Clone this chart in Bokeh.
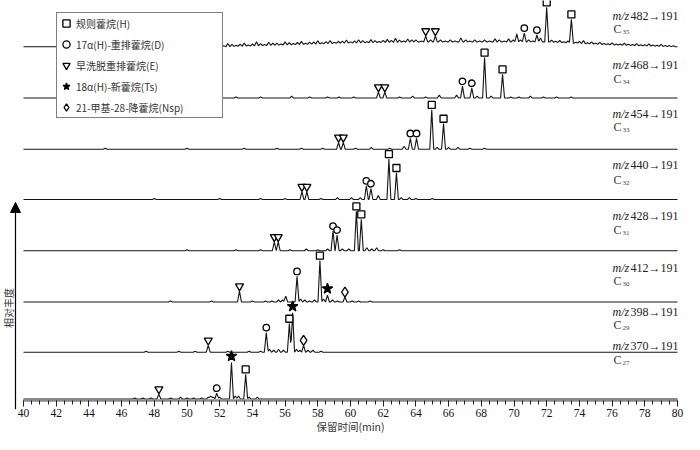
import numpy as np
from bokeh.plotting import figure
from bokeh.models import (Range1d, FixedTicker, Legend, LegendItem, Arrow,
                          NormalHead)
from bokeh.core.properties import value
from bokeh.embed import file_html
from bokeh.resources import INLINE

# ---------------- data ----------------
x_ticks = [40, 42, 44, 46, 48, 50, 52, 54, 56, 58, 60, 62, 64, 66, 68, 70, 72, 74, 76, 78, 80]

series = ["C35", "C34", "C33", "C32", "C31", "C30", "C29", "C27"]
carbon_sub = ["35", "34", "33", "32", "31", "30", "29", "27"]
mz_text = ["482→191", "468→191", "454→191", "440→191", "428→191", "412→191", "398→191", "370→191"]

legend_codes = ["H", "D", "E", "Ts", "Nsp"]
legend_labels = ["规则藿烷(H)", "17α(H)-重排藿烷(D)", "早洗脱重排藿烷(E)",
                 "18α(H)-新藿烷(Ts)", "21-甲基-28-降藿烷(Nsp)"]

# peak retention time (min), peak height (relative abundance units), compound code
c35_t = [52.0, 52.25, 52.5, 52.75, 53.0, 53.25, 53.5, 53.75, 54.0, 54.25, 54.5, 54.75,
         55.0, 55.25, 55.5, 55.75, 56.0, 56.25, 56.5, 56.75, 57.0, 57.25, 57.5, 57.75,
         58.0, 58.25, 58.5, 58.75, 59.0, 59.25, 59.5, 59.75, 60.0, 60.25, 60.5, 60.75,
         61.0, 61.25, 61.5, 61.75, 62.0, 62.25, 62.5, 62.75, 63.0, 63.25, 63.5, 63.75, 64.0,
         64.35, 64.60, 64.9, 65.19, 65.5, 65.8, 66.1, 66.4, 66.75, 67.05, 67.3, 67.6, 67.9,
         68.2, 68.5, 68.84, 69.1, 69.4, 69.67, 69.95, 70.17, 70.4, 70.63, 70.9, 71.15, 71.40,
         71.62, 72.0, 72.3, 72.55, 72.8, 73.05, 73.3, 73.51, 73.8, 74.0, 74.25, 74.5, 74.75,
         75.0, 75.25, 75.5, 75.75, 76.0, 76.25, 76.5, 76.75, 77.0, 77.25, 77.5, 77.75, 78.0,
         78.25, 78.5, 78.75, 79.0, 79.25, 79.5, 79.75]
c35_h = [2, 1, 3, 2, 1, 2, 3, 1, 2, 4, 2, 1,
         3, 2, 2, 1, 3, 2, 1, 2, 3, 1, 2, 2,
         3, 1, 2, 3, 1, 2, 2, 3, 1, 2, 3, 2,
         1, 3, 2, 1, 2, 3, 2, 4, 2, 1, 3, 2, 2,
         1, 6, 2, 6, 2, 1, 2, 1, 4, 2, 1, 2, 1,
         2, 1, 3, 2, 1, 3, 2, 8, 2, 9, 2, 1, 7,
         4, 35, 2, 1, 2, 1, 2, 24, 1, 2, 3, 1, 2,
         1, 2, 1, 1, 2, 1, 1, 2, 1, 1, 2, 1, 1,
         2, 1, 1, 2, 1, 1, 1]
c35_id = ([""] * 49 + ["", "E", "", "E", "", "", "", "", "", "", "", "", "",
                        "", "", "", "", "", "", "", "", "", "D", "", "", "D",
                        "", "H", "", "", "", "", "", "H", "", "", "", "", ""]
          + [""] * 21)
c35_base_t = [40, 52, 56, 60, 64, 68, 72, 76, 80]
c35_base_y = [0, 0, 2, 4, 5, 5, 5, 2, 0]

c34_t = [47.0, 53.0, 54.5, 56.4, 57.5, 58.6, 59.3, 60.2, 61.71, 62.1, 63.0, 63.8, 64.6, 65.43,
         66.49, 66.85, 67.42, 67.75, 68.2, 68.6, 69.30, 69.8, 70.3, 71.0, 71.8, 72.6, 73.5]
c34_h = [1, 1, 1, 2, 1, 1, 1, 1, 6, 6, 1, 2, 1, 3, 3, 12, 10, 2, 41, 2, 24, 1, 1, 2, 1, 1, 1]
c34_id = ["", "", "", "", "", "", "", "", "E", "E", "", "", "", "", "", "D", "D", "", "H", "",
          "H", "", "", "", "", "", ""]

c33_t = [45.0, 50.0, 53.5, 55.5, 57.0, 58.3, 59.27, 59.56, 60.3, 61.27, 62.4, 63.28, 63.66,
         64.04, 64.97, 65.3, 65.69, 66.0, 66.57, 67.3, 68.2]
c33_h = [1, 1, 1, 1, 1, 1, 7, 7, 1, 2, 1, 3, 11, 11, 40, 2, 26, 2, 2, 1, 1]
c33_id = ["", "", "", "", "", "", "E", "E", "", "", "", "", "D", "D", "H", "", "H", "", "", "", ""]

c32_t = [48.0, 52.0, 54.5, 56.0, 57.03, 57.33, 58.2, 59.2, 60.06, 60.6, 60.97, 61.25, 61.7,
         62.35, 62.81, 63.1, 63.6, 64.0, 65.0]
c32_h = [1, 1, 1, 1, 8, 8, 1, 2, 2, 2, 14, 11, 4, 41, 27, 2, 2, 1, 1]
c32_id = ["", "", "", "", "E", "E", "", "", "", "", "D", "D", "", "H", "H", "", "", "", ""]

c31_t = [50.0, 53.0, 54.5, 55.34, 55.58, 56.3, 57.3, 58.0, 58.6, 58.93, 59.18, 59.5, 59.9,
         60.36, 60.66, 61.0, 61.3, 61.6, 62.0, 63.0]
c31_h = [1, 1, 1, 9, 9, 1, 2, 1, 2, 20, 16, 2, 2, 40, 32, 3, 2, 3, 1, 1]
c31_id = ["", "", "", "E", "E", "", "", "", "", "D", "D", "", "", "H", "H", "", "", "", "", ""]

c30_t = [49.0, 51.5, 53.21, 54.0, 54.8, 55.2, 55.6, 55.85, 56.04, 56.73, 56.95, 57.2, 57.5,
         57.8, 58.13, 58.35, 58.59, 58.9, 59.2, 59.66, 60.1, 60.5, 61.2]
c30_h = [1, 1, 11, 1, 1, 1, 2, 2, 6, 26, 3, 2, 1, 2, 42, 3, 7, 2, 1, 5, 1, 1, 1]
c30_id = ["", "", "E", "", "", "", "", "", "", "D", "", "", "", "", "H", "", "Ts", "", "",
          "Nsp", "", "", ""]

c29_t = [47.5, 49.5, 50.5, 51.30, 52.5, 53.8, 54.5, 54.85, 55.05, 55.3, 55.6, 55.9, 56.26,
         56.46, 56.7, 56.9, 57.13, 57.4, 57.7, 58.2]
c29_h = [1, 1, 1, 7, 1, 1, 1, 20, 3, 2, 3, 2, 29, 40, 3, 2, 7, 2, 2, 1]
c29_id = ["", "", "", "E", "", "", "", "D", "", "", "", "", "H", "Ts", "", "", "Nsp", "", "", ""]

c27_t = [46.8, 47.3, 47.8, 48.28, 49.0, 49.6, 50.0, 50.4, 50.9, 51.3, 51.45, 51.6, 51.82,
         52.0, 52.72, 52.95, 53.15, 53.59, 53.8, 54.3]
c27_h = [1, 1, 1, 5, 1, 2, 1, 1, 1, 2, 3, 2, 6, 2, 37, 3, 3, 25, 2, 2]
c27_id = ["", "", "", "E", "", "", "", "", "", "", "", "", "D", "", "Ts", "", "", "H", "", ""]

flat_t = [40, 80]
flat_y = [0, 0]

traces = [
    (c35_t, c35_h, c35_id, c35_base_t, c35_base_y),
    (c34_t, c34_h, c34_id, flat_t, flat_y),
    (c33_t, c33_h, c33_id, flat_t, flat_y),
    (c32_t, c32_h, c32_id, flat_t, flat_y),
    (c31_t, c31_h, c31_id, flat_t, flat_y),
    (c30_t, c30_h, c30_id, flat_t, flat_y),
    (c29_t, c29_h, c29_id, flat_t, flat_y),
    (c27_t, c27_h, c27_id, flat_t, flat_y),
]

# ---------------- layout constants ----------------
offsets = [359, 307, 255, 204, 152, 100, 49, 1.5]   # stacking of the traces
mz_y = [390, 341, 291, 239, 187, 134, 90, 55]
c_y = [377, 326, 278, 224, 173, 121, 77, 41]
HW = 0.12      # half base width of a drawn peak (min)
GAP = 5.0      # marker gap above peak apex
FX40, FX80 = 23, 677          # frame pixels of the 40 and 80 min ticks
PXMIN = (FX80 - FX40) / 40.0
AXIS_PX = 400                 # frame pixel row of the time axis
YTOP = 406.0
YSCALE = AXIS_PX / YTOP
YBOT = -(434 - AXIS_PX) / YSCALE


def tx(fx):
    """time coordinate of a frame pixel column"""
    return 40 + (fx - FX40) / PXMIN


X0 = tx(0)
X1 = tx(684)
SERIF = "Liberation Serif"
CJK = "Noto Sans CJK SC"


def trace_line(ts, hs, bt, by):
    ts = np.asarray(ts, float)
    hs = np.asarray(hs, float)
    knots = np.concatenate([[40.0, 80.0], ts - HW, ts, ts + HW, np.asarray(bt, float)])
    knots = np.unique(np.clip(knots, 40, 80))
    base = np.interp(knots, bt, by)
    bump = np.zeros_like(knots)
    for t, h in zip(ts, hs):
        bump = np.maximum(bump, h * np.clip(1 - np.abs(knots - t) / HW, 0, None))
    return knots, base + bump


p = figure(width=684, height=434, output_backend="svg", toolbar_location=None,
           x_range=Range1d(X0, X1), y_range=Range1d(YBOT, YTOP),
           min_border_left=0, min_border_right=0, min_border_top=0, min_border_bottom=0,
           y_axis_location=None, outline_line_color=None, background_fill_color="white")
p.xgrid.visible = False
p.ygrid.visible = False

marks = {c: ([], []) for c in legend_codes}
for (ts, hs, ids, bt, by), off in zip(traces, offsets):
    x, y = trace_line(ts, hs, bt, by)
    p.line(x, y + off, line_color="#151515", line_width=1.1)
    for t, h, c in zip(ts, hs, ids):
        if c:
            g = GAP + (1.5 if c == "Ts" else 0)
            marks[c][0].append(t)
            marks[c][1].append(off + float(np.interp(t, bt, by)) + h + g)

mstyle = {"H": ("square", 7, "white"), "D": ("circle", 6.5, "white"),
          "E": ("inverted_triangle", 8, "white"), "Ts": ("star", 11, "black"),
          "Nsp": ("diamond", 10, "white")}
items = []
for code, lab in zip(legend_codes, legend_labels):
    m, s, fc = mstyle[code]
    r = p.scatter(marks[code][0], marks[code][1], marker=m, size=s, fill_color=fc,
                  line_color="black", line_width=1.3)
    items.append(LegendItem(label=lab, renderers=[r]))

legend = Legend(items=items, location=(56, 316), orientation="vertical",
                label_text_font=CJK, label_text_font_size="10px", label_text_color="#333333",
                label_height=20, glyph_height=20, glyph_width=18, label_standoff=1,
                label_width=146, padding=0, spacing=1, margin=0,
                border_line_color="black", border_line_width=1.5,
                background_fill_color="white", background_fill_alpha=1.0)
p.add_layout(legend, "center")

# right-hand labels
n = len(series)
p.text([tx(612)] * n, mz_y, text=["m/z"] * n, text_font=value(SERIF), text_font_style="italic",
       text_font_size="12px", text_baseline="middle", text_align="left", text_color="#222222")
p.text([tx(630)] * n, mz_y, text=mz_text, text_font=value(SERIF),
       text_font_size="12px", text_baseline="middle", text_align="left", text_color="#222222")
p.text([tx(613)] * n, c_y, text=["C"] * n, text_font=value(SERIF),
       text_font_size="12px", text_baseline="middle", text_align="left", text_color="#333333")
p.text([tx(622)] * n, [v - 3 for v in c_y], text=carbon_sub, text_font=value(SERIF),
       text_font_size="7px", text_baseline="middle", text_align="left", text_color="#444444")

# y arrow and its title
p.add_layout(Arrow(end=NormalHead(size=10, fill_color="black", line_color="black"),
                   x_start=tx(15), y_start=-9, x_end=tx(15), y_end=201,
                   line_color="black", line_width=1.2))
p.text([tx(7.5)], [94], text=["相对丰度"], angle=np.pi / 2, text_font=value(CJK),
       text_font_size="10px", text_baseline="middle", text_align="center", text_color="#333333")

ax = p.xaxis[0]
ax.fixed_location = 0
ax.ticker = FixedTicker(ticks=x_ticks, minor_ticks=list(np.arange(40, 80.01, 0.5)))
ax.bounds = (40, 80)
ax.axis_line_color = "#8a8a8a"
ax.axis_line_width = 2.5
ax.major_tick_in = 0
ax.major_tick_out = 6
ax.minor_tick_in = 0
ax.minor_tick_out = 4
ax.major_tick_line_color = "#222222"
ax.minor_tick_line_color = "#222222"
ax.major_label_text_font = SERIF
ax.major_label_text_font_size = "11.5px"
ax.major_label_text_color = "#111111"
ax.major_label_standoff = 2
ax.axis_label = "保留时间(min)"
ax.axis_label_text_font = CJK
ax.axis_label_text_font_size = "10.5px"
ax.axis_label_text_font_style = "normal"
ax.axis_label_text_color = "#333333"
ax.axis_label_standoff = -1

open("out.html", "w").write(file_html(p, INLINE))
